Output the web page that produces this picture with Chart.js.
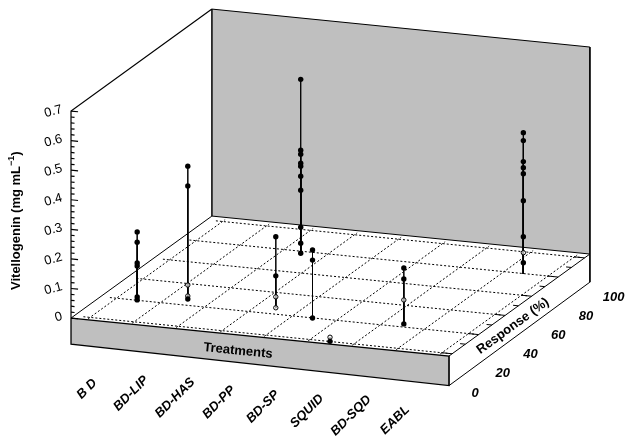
<!DOCTYPE html>
<html>
<head>
<meta charset="utf-8">
<style>html,body{margin:0;padding:0;background:#fff}canvas{display:block}</style>
<script src="https://cdn.jsdelivr.net/npm/chart.js@4"></script>
</head>
<body>
<canvas id="chart" width="627" height="439"></canvas>
<script>
const treatments = ['B D', 'BD-LIP', 'BD-HAS', 'BD-PP', 'BD-SP', 'SQUID', 'BD-SQD', 'EABL'];
// response (%) of each needle group, one per treatment
const responses = [19, 24, 76, 24, 18.5, -1.5, 21, 78];

// vitellogenin (mg/mL)
const bd = [0.235, 0.2, 0.13, 0.12, 0.015, 0.005];
const bdLip = [0.456, 0.389, 0.054, 0.017, 0.007];
const bdHas = [0.596, 0.356, 0.343, 0.312, 0.302, 0.268, 0.221, 0.096, 0.042, 0.008];
const bdPp = [0.247, 0.115, 0.044, 0.007];
const bdSp = [0.235, 0.201, 0.005];
const squid = [0.02, 0.006];
const bdSqd = [0.196, 0.159, 0.088, 0.007];
const eabl = [0.484, 0.457, 0.386, 0.365, 0.345, 0.254, 0.132, 0.078, 0.044];
const vitellogenin = [bd, bdLip, bdHas, bdPp, bdSp, squid, bdSqd, eabl];

// which of the values above are drawn as open circles
const openValues = [[], [0.054, 0.017], [], [0.044, 0.007], [], [0.02], [0.088], [0.078]];

const valueTicks = ['0', '0.1', '0.2', '0.3', '0.4', '0.5', '0.6', '0.7'];
const responseTicks = [0, 20, 40, 60, 80, 100];

// oblique projection of (treatment, response, value) on the page
const proj = { x0: 90, y0: 317.4, tx: 44, ty: 4.42, rx: 1.325, ry: -0.959, vy: 295.7 };
const tMin = -0.361, tMax = 8.23, rMin = -2.34, rMax = 104, vMax = 0.7;
const needleFloor = 0.006;

function p(t, r, v) {
  return {
    x: proj.x0 + proj.tx * t + proj.rx * r,
    y: proj.y0 + proj.ty * t + proj.ry * r - proj.vy * v
  };
}

const layers = [];
function poly(points, extra) {
  layers.push(Object.assign({
    data: points, showLine: true, pointRadius: 0, borderColor: '#000', borderWidth: 1,
    tension: 0, fill: false, clip: false
  }, extra));
}
const gray = '#bfbfbf';

// back wall
poly([p(tMin, rMax, 0), p(tMin, rMax, vMax), p(tMax, rMax, vMax), p(tMax, rMax, 0), p(tMin, rMax, 0)],
  { fill: 'shape', backgroundColor: gray });
// front and side of the slab
poly([p(tMin, rMin, 0), p(tMax, rMin, 0), p(tMax, rMin, -0.1), p(tMin, rMin, -0.088), p(tMin, rMin, 0)],
  { fill: 'shape', backgroundColor: gray, borderWidth: 1.3 });
poly([p(tMax, rMin, 0), p(tMax, rMax, 0), p(tMax, rMax, -0.095), p(tMax, rMin, -0.1), p(tMax, rMin, 0)], {});
// left wall outline
poly([p(tMin, rMin, 0), p(tMin, rMax, 0), p(tMin, rMax, vMax)], {});
poly([p(tMin, rMin, 0), p(tMin, rMin, vMax), p(tMin, rMax, vMax)], { borderWidth: 1.2 });

// floor grid
for (let t = 0; t <= 8; t++) {
  poly([p(t, rMin + 1, 0), p(t, 102, 0)], { borderDash: [2, 2] });
}
for (const r of responseTicks) {
  poly([p(-0.15, r, 0), p(8.15, r, 0)], { borderDash: [2, 2] });
}

// axis ticks
for (let i = 0; i <= 35; i++) {
  const v = i * 0.02;
  poly([p(tMin, rMin, v), p(tMin + (i % 5 === 0 ? 0.16 : 0.08), rMin, v)], { borderWidth: 1.2 });
}
for (let r = 0; r <= 100; r += 10) {
  poly([p(tMax, r, 0), p(tMax - (r % 20 === 0 ? 0.24 : 0.12), r, 0)], {});
}

// needles, one per reading, then the markers on top
vitellogenin.forEach((vals, i) => {
  vals.forEach(v => {
    poly([p(i + 0.5, responses[i], v), p(i + 0.5, responses[i], needleFloor)], { borderWidth: 0.8 });
  });
});
vitellogenin.forEach((vals, i) => {
  vals.forEach(v => {
    const open = openValues[i].includes(v);
    layers.push({
      data: [p(i + 0.5, responses[i], v)], showLine: false, clip: false,
      pointRadius: open ? 2.2 : 2.7,
      pointBorderWidth: open ? 1 : 0,
      pointBorderColor: '#000',
      pointBackgroundColor: open ? 'rgba(255,255,255,0.65)' : '#000'
    });
  });
});

function label(ctx, text, x, y, angle, font, align) {
  ctx.save();
  ctx.translate(x, y);
  ctx.rotate(angle * Math.PI / 180);
  ctx.font = font;
  ctx.fillStyle = '#000';
  ctx.textAlign = align || 'center';
  ctx.textBaseline = 'middle';
  ctx.fillText(text, 0, 0);
  ctx.restore();
}

const textPlugin = {
  id: 'texts',
  afterDraw(c) {
    const ctx = c.ctx;
    const fam = '"Liberation Sans", Arial, sans-serif';
    valueTicks.forEach((s, i) => {
      const a = p(tMin, rMin, i * 0.1);
      label(ctx, s, a.x - 9, a.y - 2, -15, '13px ' + fam, 'right');
    });
    responseTicks.forEach(r => {
      const a = p(tMax, r, 0);
      label(ctx, String(r), a.x + 23 + r * 0.06, a.y + 39.3, 0, 'italic bold 13px ' + fam);
    });
    treatments.forEach((s, i) => {
      const a = p(i + 0.5, 0, 0);
      label(ctx, s, a.x - 25, a.y + 69.5, -45, 'italic bold 13px ' + fam);
    });
    label(ctx, 'Treatments', 238, 351, 5.7, 'bold 13px ' + fam);
    label(ctx, 'Response (%)', 513, 326, -36, 'bold 13px ' + fam);

    // y title with the superscript drawn smaller
    ctx.save();
    ctx.translate(16, 290);
    ctx.rotate(-Math.PI / 2);
    ctx.fillStyle = '#000';
    ctx.textBaseline = 'middle';
    ctx.textAlign = 'left';
    ctx.font = 'bold 13px ' + fam;
    const head = 'Vitellogenin (mg mL';
    ctx.fillText(head, 0, 0);
    let w = ctx.measureText(head).width;
    ctx.font = 'bold 9px ' + fam;
    ctx.fillText('\u22121', w, -4);
    w += ctx.measureText('\u22121').width;
    ctx.font = 'bold 13px ' + fam;
    ctx.fillText(')', w, 0);
    ctx.restore();
  }
};

new Chart(document.getElementById('chart'), {
  type: 'scatter',
  data: { datasets: layers.reverse() },
  options: {
    responsive: false,
    animation: false,
    layout: { padding: 0, autoPadding: false },
    plugins: { legend: { display: false }, tooltip: { enabled: false } },
    scales: {
      x: { type: 'linear', display: false, min: 0, max: 627 },
      y: { type: 'linear', display: false, min: 0, max: 439, reverse: true }
    }
  },
  plugins: [textPlugin]
});
</script>
</body>
</html>
